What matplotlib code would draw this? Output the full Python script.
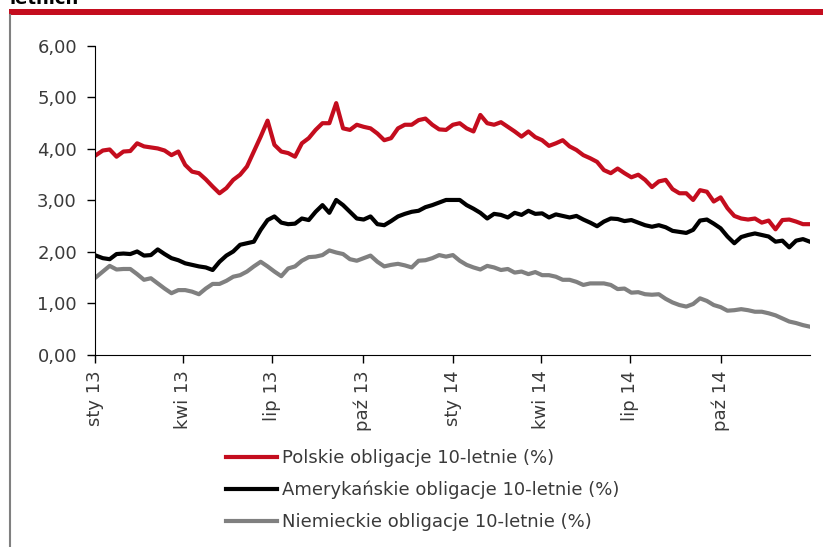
import pandas as pd
import matplotlib.pyplot as plt
from matplotlib.patches import Rectangle
from matplotlib.lines import Line2D

# weekly readings, 2 Jan 2013 - 31 Dec 2014
dates = pd.date_range('2013-01-02', periods=105, freq='7D')

pl = [3.88, 3.97, 3.99, 3.85, 3.95, 3.96, 4.11, 4.05, 4.03, 4.01,
      3.97, 3.88, 3.95, 3.69, 3.56, 3.53, 3.41, 3.27, 3.14, 3.24,
      3.40, 3.50, 3.66, 3.95, 4.24, 4.55, 4.08, 3.95, 3.92, 3.85,
      4.11, 4.21, 4.37, 4.50, 4.50, 4.89, 4.40, 4.37, 4.47, 4.43,
      4.40, 4.30, 4.17, 4.21, 4.40, 4.47, 4.47, 4.56, 4.59, 4.47,
      4.38, 4.37, 4.47, 4.50, 4.40, 4.34, 4.66, 4.50, 4.47, 4.52,
      4.43, 4.34, 4.24, 4.34, 4.23, 4.17, 4.06, 4.11, 4.17, 4.05,
      3.98, 3.88, 3.82, 3.75, 3.59, 3.53, 3.62, 3.53, 3.45, 3.50,
      3.40, 3.26, 3.37, 3.40, 3.22, 3.14, 3.14, 3.01, 3.20, 3.17,
      2.98, 3.06, 2.85, 2.70, 2.65, 2.63, 2.65, 2.57, 2.61, 2.44,
      2.62, 2.63, 2.59, 2.54, 2.54]

us = [1.93, 1.88, 1.86, 1.96, 1.97, 1.96, 2.01, 1.93, 1.94, 2.05,
      1.96, 1.88, 1.84, 1.78, 1.75, 1.72, 1.70, 1.65, 1.81, 1.93,
      2.01, 2.14, 2.17, 2.20, 2.43, 2.62, 2.69, 2.57, 2.54, 2.55,
      2.65, 2.62, 2.78, 2.91, 2.76, 3.01, 2.91, 2.78, 2.65, 2.63,
      2.69, 2.54, 2.52, 2.60, 2.69, 2.74, 2.78, 2.80, 2.87, 2.91,
      2.96, 3.01, 3.01, 3.01, 2.91, 2.84, 2.76, 2.65, 2.74, 2.72,
      2.67, 2.76, 2.72, 2.80, 2.74, 2.75, 2.67, 2.73, 2.70, 2.67,
      2.70, 2.63, 2.57, 2.50, 2.59, 2.65, 2.64, 2.60, 2.62, 2.57,
      2.52, 2.49, 2.52, 2.48, 2.41, 2.39, 2.37, 2.43, 2.61, 2.63,
      2.55, 2.46, 2.30, 2.17, 2.29, 2.33, 2.36, 2.33, 2.30, 2.20,
      2.22, 2.09, 2.22, 2.25, 2.20]

de = [1.51, 1.62, 1.73, 1.66, 1.67, 1.67, 1.57, 1.46, 1.49, 1.39,
      1.29, 1.20, 1.26, 1.26, 1.23, 1.18, 1.29, 1.38, 1.38, 1.44,
      1.52, 1.55, 1.62, 1.72, 1.81, 1.72, 1.62, 1.53, 1.68, 1.72,
      1.83, 1.90, 1.91, 1.94, 2.03, 1.99, 1.96, 1.86, 1.83, 1.88,
      1.93, 1.81, 1.72, 1.75, 1.77, 1.74, 1.70, 1.83, 1.84, 1.88,
      1.94, 1.91, 1.94, 1.83, 1.75, 1.70, 1.66, 1.73, 1.70, 1.65,
      1.67, 1.60, 1.62, 1.57, 1.61, 1.55, 1.55, 1.52, 1.46, 1.46,
      1.42, 1.36, 1.39, 1.39, 1.39, 1.36, 1.28, 1.29, 1.21, 1.22,
      1.18, 1.17, 1.18, 1.09, 1.02, 0.97, 0.94, 0.99, 1.10, 1.05,
      0.97, 0.93, 0.86, 0.87, 0.89, 0.87, 0.84, 0.84, 0.81, 0.77,
      0.71, 0.65, 0.62, 0.58, 0.55]

labels = ['Polskie obligacje 10-letnie (%)',
          'Amerykańskie obligacje 10-letnie (%)',
          'Niemieckie obligacje 10-letnie (%)']

tick_dates = ['2013-01-01', '2013-04-01', '2013-07-01', '2013-10-01',
              '2014-01-01', '2014-04-01', '2014-07-01', '2014-10-01']
tick_labels = ['sty 13', 'kwi 13', 'lip 13', 'paź 13',
               'sty 14', 'kwi 14', 'lip 14', 'paź 14']
yticks = [0, 1, 2, 3, 4, 5, 6]
ytick_labels = ['0,00', '1,00', '2,00', '3,00', '4,00', '5,00', '6,00']

txt = '#3a3a3a'
plt.rcParams['font.family'] = ['DejaVu Sans']

fig = plt.figure(figsize=(8.23, 5.47), dpi=100)
ax = fig.add_axes([0.1154, 0.351, 0.8686, 0.565])

ax.plot(dates, pl, color='#c40d1e', lw=3, label=labels[0])
ax.plot(dates, us, color='black', lw=3, label=labels[1])
ax.plot(dates, de, color='#808080', lw=3, label=labels[2])

ax.set_xlim(pd.Timestamp('2013-01-01'), pd.Timestamp('2014-12-31'))
ax.set_ylim(0, 6)
ax.set_yticks(yticks)
ax.set_yticklabels(ytick_labels)
ax.set_xticks(pd.to_datetime(tick_dates))
ax.set_xticklabels(tick_labels, rotation=90)

for s in ['top', 'right']:
    ax.spines[s].set_visible(False)
ax.spines['left'].set_color('black')
ax.spines['bottom'].set_color('black')
ax.tick_params(axis='both', direction='out', length=6, width=1, colors='black',
               labelcolor=txt, labelsize=13)
ax.tick_params(axis='y', pad=7)
ax.tick_params(axis='x', pad=5)

leg = fig.legend(loc='upper left', bbox_to_anchor=(0.2746, 0.179), frameon=False,
                 fontsize=13, handlelength=2.8, handletextpad=0.3,
                 labelspacing=0.76, borderpad=0, borderaxespad=0)
for t in leg.get_texts():
    t.set_color(txt)

# frame decorations
fig.add_artist(Rectangle((9 / 823, 1 - 15 / 547), 1, 6 / 547,
                         transform=fig.transFigure, color='#c40d1e', lw=0))
fig.add_artist(Line2D([10 / 823, 10 / 823], [0, 1 - 15 / 547],
                      transform=fig.transFigure, color='#808080', lw=1.5))
fig.text(0.012, 1 - 4 / 547, 'letnich', fontsize=13, fontweight='bold',
         va='baseline', color='black')

plt.savefig('out.png', dpi=100)
